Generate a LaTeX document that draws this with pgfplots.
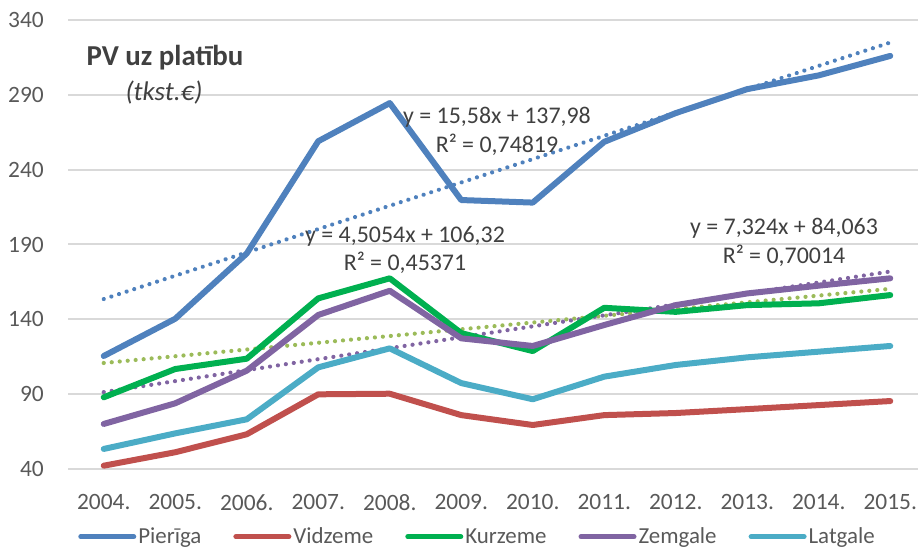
\documentclass[border=0pt]{standalone}
\usepackage{fontspec}
\setmainfont{Carlito}
\usepackage{pgfplots}
\pgfplotsset{compat=1.18}
\definecolor{cPie}{HTML}{4F81BD}
\definecolor{cVid}{HTML}{C0504D}
\definecolor{cKur}{HTML}{00B050}
\definecolor{cZem}{HTML}{8064A2}
\definecolor{cLat}{HTML}{4BACC6}
\definecolor{cKurT}{HTML}{9BBB59}
\definecolor{cGrid}{HTML}{D9D9D9}
\definecolor{cTxt}{HTML}{595959}
\definecolor{cTitle}{HTML}{404040}
\begin{document}
\begin{tikzpicture}
\useasboundingbox (0,0) rectangle (918bp,548bp);
\clip (0,0) rectangle (918bp,548bp);
\begin{axis}[
  at={(68bp,79bp)}, anchor=south west,
  scale only axis, width=858bp, height=449bp,
  xmin=-0.5, xmax=11.5, ymin=40, ymax=340,
  axis line style={draw=none},
  xtick pos=bottom, ytick pos=left,
  ytick={40,90,...,340},
  xtick={0,...,11},
  xticklabels={2004.,2005.,2006.,2007.,2008.,2009.,2010.,2011.,2012.,2013.,2014.,2015.},
  ymajorgrids, major grid style={cGrid, line width=2bp},
  major tick length=0pt,
  /pgf/number format/assume math mode=true,
  tick label style={font=\fontsize{23.5}{27}\selectfont, text=cTxt},
  yticklabel style={inner sep=0pt, anchor=east, xshift=-24bp},
  xticklabel style={inner sep=0pt, anchor=north, yshift=-25bp},
  every axis plot/.append style={line join=round},
  legend columns=5,
  legend style={draw=none, fill=none, inner sep=0pt, outer sep=0pt,
    at={(axis description cs:0.012,-0.1508)}, anchor=west,
    font=\fontsize{23}{27}\selectfont, text=cTxt,
    nodes={inner xsep=2bp, inner ysep=0pt},
    /tikz/every even column/.append style={column sep=30bp}},
  legend image code/.code={\draw[#1, line width=5bp, line cap=round] (2bp,0bp) -- (55bp,0bp);},
]
% trendlines
\addplot[forget plot, cPie, line width=4.2bp, line cap=round, dash pattern=on 0.01bp off 8bp] coordinates {(0,153.56) (11,324.94)};
\addplot[forget plot, cKurT, line width=4.2bp, line cap=round, dash pattern=on 0.01bp off 8bp] coordinates {(0,110.83) (11,160.38)};
\addplot[forget plot, cZem, line width=4.2bp, line cap=round, dash pattern=on 0.01bp off 8bp] coordinates {(0,91.39) (11,171.95)};
% data
\addplot[cPie, line width=6bp, line cap=round] coordinates {(0,115.5) (1,140.4) (2,184) (3,259) (4,284.5) (5,219.7) (6,218) (7,258.6) (8,277.8) (9,293.8) (10,303) (11,316)};
\addlegendentry{Pierīga}
\addplot[cVid, line width=6bp, line cap=round] coordinates {(0,42.2) (1,51.2) (2,63.2) (3,89.9) (4,90.3) (5,76) (6,69.4) (7,76) (8,77.4) (9,80) (10,82.7) (11,85.4)};
\addlegendentry{Vidzeme}
\addplot[cKur, line width=6bp, line cap=round] coordinates {(0,87.9) (1,106.8) (2,113.7) (3,154) (4,167.4) (5,130.8) (6,118.8) (7,147.7) (8,145) (9,149.5) (10,150.7) (11,156.2)};
\addlegendentry{Kurzeme}
\addplot[cZem, line width=6bp, line cap=round] coordinates {(0,70.1) (1,83.9) (2,105.7) (3,142.9) (4,159.1) (5,127.3) (6,122.2) (7,136.2) (8,149.5) (9,157.3) (10,162.5) (11,167.4)};
\addlegendentry{Zemgale}
\addplot[cLat, line width=6bp, line cap=round] coordinates {(0,53.4) (1,63.8) (2,73.2) (3,107.9) (4,120.6) (5,97.4) (6,86.6) (7,101.7) (8,109.5) (9,114.6) (10,118.4) (11,122.2)};
\addlegendentry{Latgale}
\end{axis}
\node[text=cTitle, font=\fontsize{29}{33}\selectfont\bfseries] at (165bp,490bp) {PV uz platību};
\node[text=cTitle, font=\fontsize{27}{31}\selectfont\itshape] at (164bp,455bp) {(tkst.€)};
\node[text=cTitle, font=\fontsize{24}{29}\selectfont, align=center] at (497bp,417bp) {y = 15,58x + 137,98\\R² = 0,74819};
\node[text=cTitle, font=\fontsize{24}{29}\selectfont, align=center] at (405bp,298bp) {y = 4,5054x + 106,32\\R² = 0,45371};
\node[text=cTitle, font=\fontsize{24}{29}\selectfont, align=center] at (784bp,306bp) {y = 7,324x + 84,063\\R² = 0,70014};
\end{tikzpicture}
\end{document}
